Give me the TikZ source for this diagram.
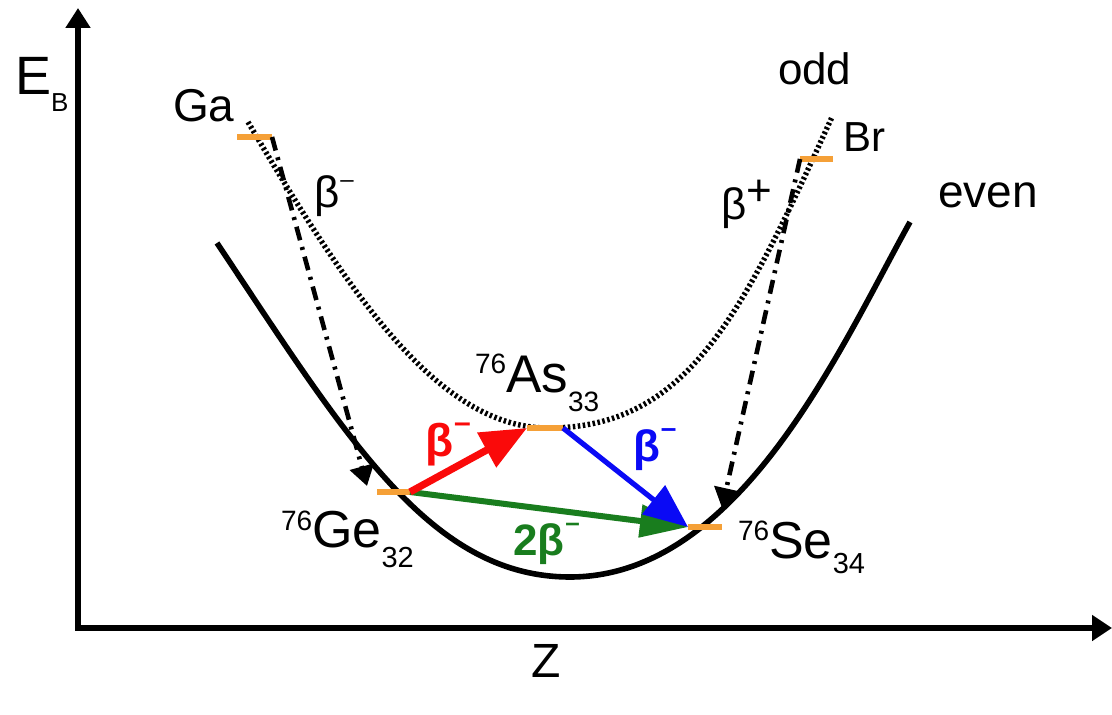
\documentclass[tikz,border=0pt]{standalone}
\usepackage{fontspec}
\setmainfont{Liberation Sans}
\usetikzlibrary{arrows.meta}
\definecolor{tickor}{RGB}{245,160,55}
\definecolor{grn}{RGB}{25,125,30}
\definecolor{rd}{RGB}{250,10,10}
\definecolor{bl}{RGB}{10,10,245}
\newcommand\fs[1]{\fontsize{#1}{#1}\selectfont}
\tikzset{
  lbl/.style={anchor=base west, inner sep=0pt, outer sep=0pt},
  axisline/.style={line width=3pt, line join=miter},
  evencurve/.style={line width=2.8pt},
  oddcurve/.style={line width=2.7pt, dash pattern=on 1.25pt off 1.25pt},
  level/.style={tickor, line width=2.6pt},
  dashdot/.style={line width=2.3pt, dash pattern=on 7pt off 3.5pt on 1.5pt off 3.5pt},
  smallhead/.style={-{Triangle[length=10pt,width=12pt]}},
}
\begin{document}
\begin{tikzpicture}[x=0.5pt,y=-0.5pt]
\useasboundingbox (0,0) rectangle (1112,715);
% axes
\coordinate (O) at (78,628);
\coordinate (Ytip) at (78,8);
\coordinate (Xtip) at (1112,628);
\draw[axisline, {Triangle[length=10pt,width=12pt]}-{Triangle[length=10pt,width=12.5pt]}] (Ytip) -- (O) -- (Xtip);
% curves
\draw[evencurve] (217,243) .. controls (347,438) and (430,577) .. (570,577)
                 .. controls (740,577) and (840,348) .. (910,222);
\draw[oddcurve] (248,122) .. controls (348,292) and (438,428) .. (548,428)
                .. controls (688,428) and (742,315) .. (832,117);
% levels
\coordinate (GaL) at (237,137); \coordinate (GaR) at (272,137);
\coordinate (BrL) at (800,159); \coordinate (BrR) at (833,159);
\coordinate (AsL) at (527,428); \coordinate (AsR) at (563,428);
\coordinate (GeL) at (377,492); \coordinate (GeR) at (410,492);
\coordinate (SeL) at (688,527); \coordinate (SeR) at (722,527);
\coordinate (GeIn) at (367,486);
\coordinate (SeIn) at (722,508);
\draw[level] (GaL) -- (GaR);
\draw[level] (BrL) -- (BrR);
\draw[level] (AsL) -- (AsR);
\draw[level] (GeL) -- (GeR);
\draw[level] (SeL) -- (SeR);
% single beta decays from Ga and Br
\draw[dashdot, smallhead] (GaR) -- (GeIn);
\draw[dashdot, smallhead] (BrL) -- (SeIn);
% coloured decays
\draw[grn, line width=3pt, -{Triangle[length=24pt,width=16pt]}] (GeR) -- (SeL);
\draw[bl, line width=2.6pt, -{Triangle[length=22pt,width=18pt]}] (AsR) -- (SeL);
\draw[rd, line width=3.6pt, -{Triangle[length=23pt,width=19pt]}] (GeR) -- (AsL);
% labels
\node[lbl] (eb) at (15,95) {\fs{27}E\raisebox{-8.5pt}{\fs{13}B}};
\node[lbl] (ga) at (173,122) {\fs{23}Ga};
\node[lbl] (odd) at (778,85) {\fs{22}odd};
\node[lbl] (br) at (843,152) {\fs{21}Br};
\node[lbl] (even) at (938,208) {\fs{23}even};
\node[lbl] (z) at (531,677) {\fs{24}Z};
\node[lbl] (bm1) at (314,208) {\fs{22}β\kern0.5pt\raisebox{10pt}{\fs{12}–}};
\node[lbl] (bp) at (721,220) {\fs{22}β\raisebox{7pt}{\fs{22}+}};
\node[lbl] (as) at (475,393) {\fs{26.5}\raisebox{9.5pt}{\fs{14}76}As\raisebox{-9.5pt}{\fs{14}33}};
\node[lbl] (ge) at (281,547) {\fs{26}\raisebox{8.5pt}{\fs{14}76}Ge\raisebox{-10pt}{\fs{14.5}32}};
\node[lbl] (se) at (738,558) {\fs{26}\raisebox{9pt}{\fs{14}76}Se\raisebox{-7.5pt}{\fs{14.5}34}};
\node[lbl, text=rd] (rb) at (425,457) {\bfseries\fs{23}β\kern0.5pt\raisebox{12pt}{\fs{15}–}};
\node[lbl, text=bl] (bb) at (633,461) {\bfseries\fs{22}β\kern0.5pt\raisebox{12pt}{\fs{14}–}};
\node[lbl, text=grn] (gb) at (513,555) {\bfseries\fs{22}2β\kern0.5pt\raisebox{12pt}{\fs{13}–}};
\end{tikzpicture}
\end{document}
